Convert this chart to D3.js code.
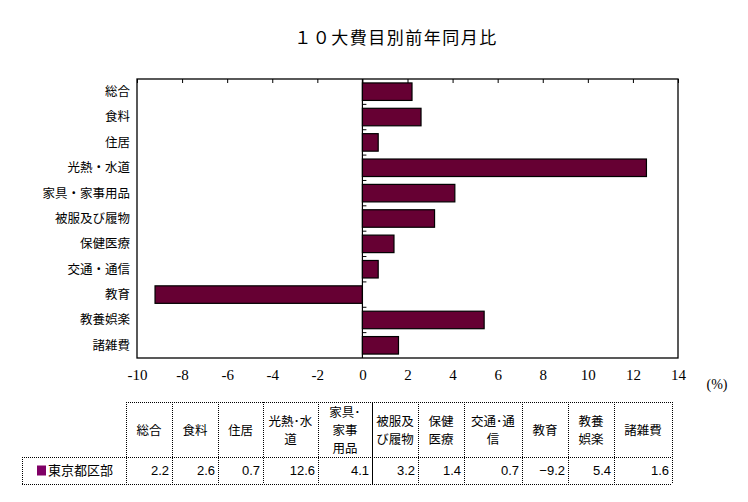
<!DOCTYPE html>
<html>
<head>
<meta charset="utf-8">
<script src="https://cdn.jsdelivr.net/npm/d3@7"></script>
<style>
  body { margin: 0; background: #fff; }
  svg { display: block; }
  text { font-family: "Noto Sans CJK JP", sans-serif; fill: #000; }
  .tick-num { font-family: "Liberation Serif", serif; font-size: 15px; }
</style>
</head>
<body>
<svg id="chart"></svg>
<script>
// chart data
const title = '１０大費目別前年同月比';
const categories = ['総合', '食料', '住居', '光熱・水道', '家具・家事用品', '被服及び履物',
  '保健医療', '交通・通信', '教育', '教養娯楽', '諸雑費'];
const values = [2.2, 2.6, 0.7, 12.6, 4.1, 3.2, 1.4, 0.7, -9.2, 5.4, 1.6];
const xTicks = [-10, -8, -6, -4, -2, 0, 2, 4, 6, 8, 10, 12, 14];
const unitLabel = '(%)';
const seriesName = '東京都区部';
const tableHeaders = [['総合'], ['食料'], ['住居'], ['光熱･水', '道'], ['家具･', '家事', '用品'],
  ['被服及', 'び履物'], ['保健', '医療'], ['交通･通', '信'], ['教育'], ['教養', '娯楽'], ['諸雑費']];

const W = 748, H = 502;
const plot = {left: 137, right: 678, top: 79, bottom: 358};
const barColor = '#660033';

const svg = d3.select('#chart').attr('width', W).attr('height', H);

svg.append('text')
    .attr('x', 396).attr('y', 44)
    .attr('text-anchor', 'middle')
    .style('font-size', '17px')
    .style('letter-spacing', '1.5px')
    .text(title);

const x = d3.scaleLinear().domain([-10, 14]).range([plot.left, plot.right]);
const y = d3.scaleBand().domain(categories).range([plot.top, plot.bottom])
    .paddingInner(0.31).paddingOuter(0.155);

// plot frame
svg.append('rect')
    .attr('x', plot.left).attr('y', plot.top)
    .attr('width', plot.right - plot.left).attr('height', plot.bottom - plot.top)
    .attr('fill', 'none').attr('stroke', '#000').attr('stroke-width', 1.3);

// top inward ticks
const topAxis = d3.axisTop(x).tickValues(xTicks).tickSize(-4).tickFormat('');
svg.append('g')
    .attr('transform', `translate(0,${plot.top})`)
    .call(topAxis)
    .call(g => g.select('.domain').remove())
    .call(g => g.selectAll('line').attr('stroke', '#000'));

// bottom tick labels
const bottomAxis = d3.axisBottom(x).tickValues(xTicks).tickSize(0).tickPadding(11)
    .tickFormat(d => d < 0 ? '-' + Math.abs(d) : d);
svg.append('g')
    .attr('transform', `translate(0,${plot.bottom})`)
    .call(bottomAxis)
    .call(g => g.select('.domain').remove())
    .call(g => g.selectAll('text').attr('class', 'tick-num').style('font-size', '15px'));

svg.append('text')
    .attr('class', 'tick-num')
    .attr('x', 717).attr('y', 389)
    .attr('text-anchor', 'middle')
    .style('font-size', '14px')
    .text(unitLabel);

// bars
svg.selectAll('.bar')
    .data(values)
  .join('rect')
    .attr('class', 'bar')
    .attr('x', d => x(Math.min(0, d)))
    .attr('y', (d, i) => y(categories[i]))
    .attr('width', d => Math.abs(x(d) - x(0)))
    .attr('height', y.bandwidth())
    .attr('fill', barColor)
    .attr('stroke', '#000')
    .attr('stroke-width', 1.2);

// zero line with category ticks
const x0 = x(0);
svg.append('line')
    .attr('x1', x0).attr('x2', x0)
    .attr('y1', plot.top).attr('y2', plot.bottom)
    .attr('stroke', '#000').attr('stroke-width', 1.2);
svg.selectAll('.cat-tick')
    .data(d3.range(1, categories.length))
  .join('line')
    .attr('class', 'cat-tick')
    .attr('x1', x0).attr('x2', x0 + 4)
    .attr('y1', k => plot.top + k * y.step())
    .attr('y2', k => plot.top + k * y.step())
    .attr('stroke', '#000');

// category labels
svg.selectAll('.cat-label')
    .data(categories)
  .join('text')
    .attr('class', 'cat-label')
    .attr('x', 130)
    .attr('y', d => y(d) + y.bandwidth() / 2)
    .attr('dy', '0.35em')
    .attr('text-anchor', 'end')
    .style('font-size', '12.5px')
    .text(d => d);

// data table
const colEdges = [126, 172, 218, 263, 318, 372, 418, 464, 522, 568, 614, 672];
const tbl = {labelLeft: 22, top: 402, mid: 457, bottom: 484};
const dotted = g => g.attr('stroke', '#000').attr('stroke-width', 1).attr('stroke-dasharray', '1,1');
const table = svg.append('g');

// horizontal rules
[[tbl.top, colEdges[0]], [tbl.mid, tbl.labelLeft], [tbl.bottom, tbl.labelLeft]].forEach(([yy, x1]) => {
  table.append('line')
      .attr('x1', x1).attr('x2', colEdges[colEdges.length - 1])
      .attr('y1', yy + 0.5).attr('y2', yy + 0.5)
      .call(dotted);
});
// vertical rules
colEdges.forEach((cx, i) => {
  table.append('line')
      .attr('x1', cx + 0.5).attr('x2', cx + 0.5)
      .attr('y1', tbl.top).attr('y2', tbl.bottom)
      .call(dotted)
      .attr('stroke-dasharray', i === 5 ? null : '1,1');
});
table.append('line')
    .attr('x1', tbl.labelLeft + 0.5).attr('x2', tbl.labelLeft + 0.5)
    .attr('y1', tbl.mid).attr('y2', tbl.bottom)
    .call(dotted);

// header text
tableHeaders.forEach((lines, i) => {
  const cx = (colEdges[i] + colEdges[i + 1]) / 2;
  const lh = 18;
  const cy = (tbl.top + tbl.mid) / 2 + 1;
  lines.forEach((s, j) => {
    table.append('text')
        .attr('text-anchor', 'middle')
        .attr('x', cx)
        .attr('y', cy + (j - (lines.length - 1) / 2) * lh)
        .attr('dy', '0.35em')
        .style('font-size', '12.5px')
        .text(s);
  });
});

// series label with key
const rowY = (tbl.mid + tbl.bottom) / 2;
table.append('rect')
    .attr('x', 37).attr('y', rowY - 5)
    .attr('width', 9).attr('height', 10)
    .attr('fill', '#800066');
table.append('text')
    .attr('x', 48).attr('y', rowY).attr('dy', '0.35em')
    .style('font-size', '13px')
    .text(seriesName);

// values
table.selectAll('.val')
    .data(values)
  .join('text')
    .attr('class', 'val')
    .attr('x', (d, i) => colEdges[i + 1] - 3)
    .attr('y', rowY).attr('dy', '0.35em')
    .attr('text-anchor', 'end')
    .style('font-family', '"Liberation Sans", sans-serif')
    .style('font-size', '13px')
    .text(d => d < 0 ? '−' + Math.abs(d).toFixed(1) : d.toFixed(1));
</script>
</body>
</html>
